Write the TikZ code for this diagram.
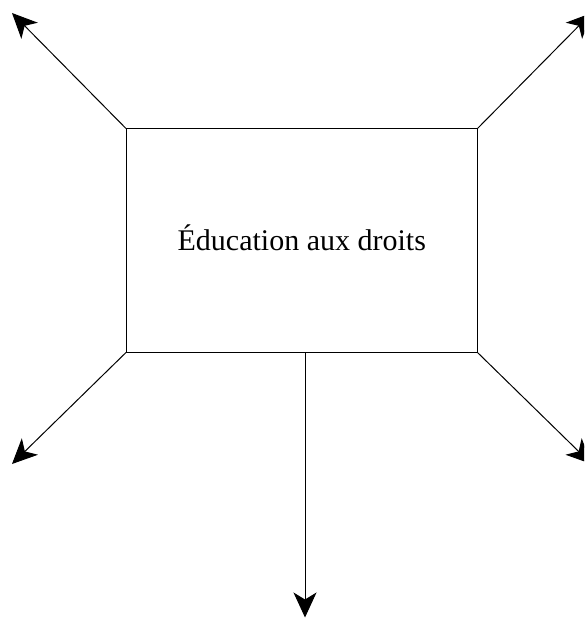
\documentclass[tikz,border=0pt]{standalone}
\usepackage{fontspec}
\setmainfont{Liberation Serif}
\usetikzlibrary{arrows.meta}
\begin{document}
\begin{tikzpicture}[x=1pt,y=-1pt,
  conn/.style={line width=1pt,-{Stealth[length=25pt,width=23pt,inset=7pt]}},
  box/.style={draw,line width=1pt,minimum width=350.5pt,minimum height=223pt,inner sep=0pt},
  lbl/.style={font=\fontsize{30}{36}\selectfont,inner sep=0pt}]
\useasboundingbox (0,0) rectangle (584,620);
\clip (0,0) rectangle (584,620);
\node[box] (b) at (301.75,240.5) {};
\node[lbl] (t) at (301.75,238) {Éducation aux droits};
\coordinate (tl) at (12,13);
\coordinate (tr) at (591.5,13);
\coordinate (bl) at (12,464);
\coordinate (br) at (591.5,464);
\coordinate (bs) at (305,617.5);
\coordinate (bo) at (305,352);
\draw[conn] (b.north west) -- (tl);
\draw[conn] (b.north east) -- (tr);
\draw[conn] (b.south west) -- (bl);
\draw[conn] (b.south east) -- (br);
\draw[conn] (bo) -- (bs);
\end{tikzpicture}
\end{document}
